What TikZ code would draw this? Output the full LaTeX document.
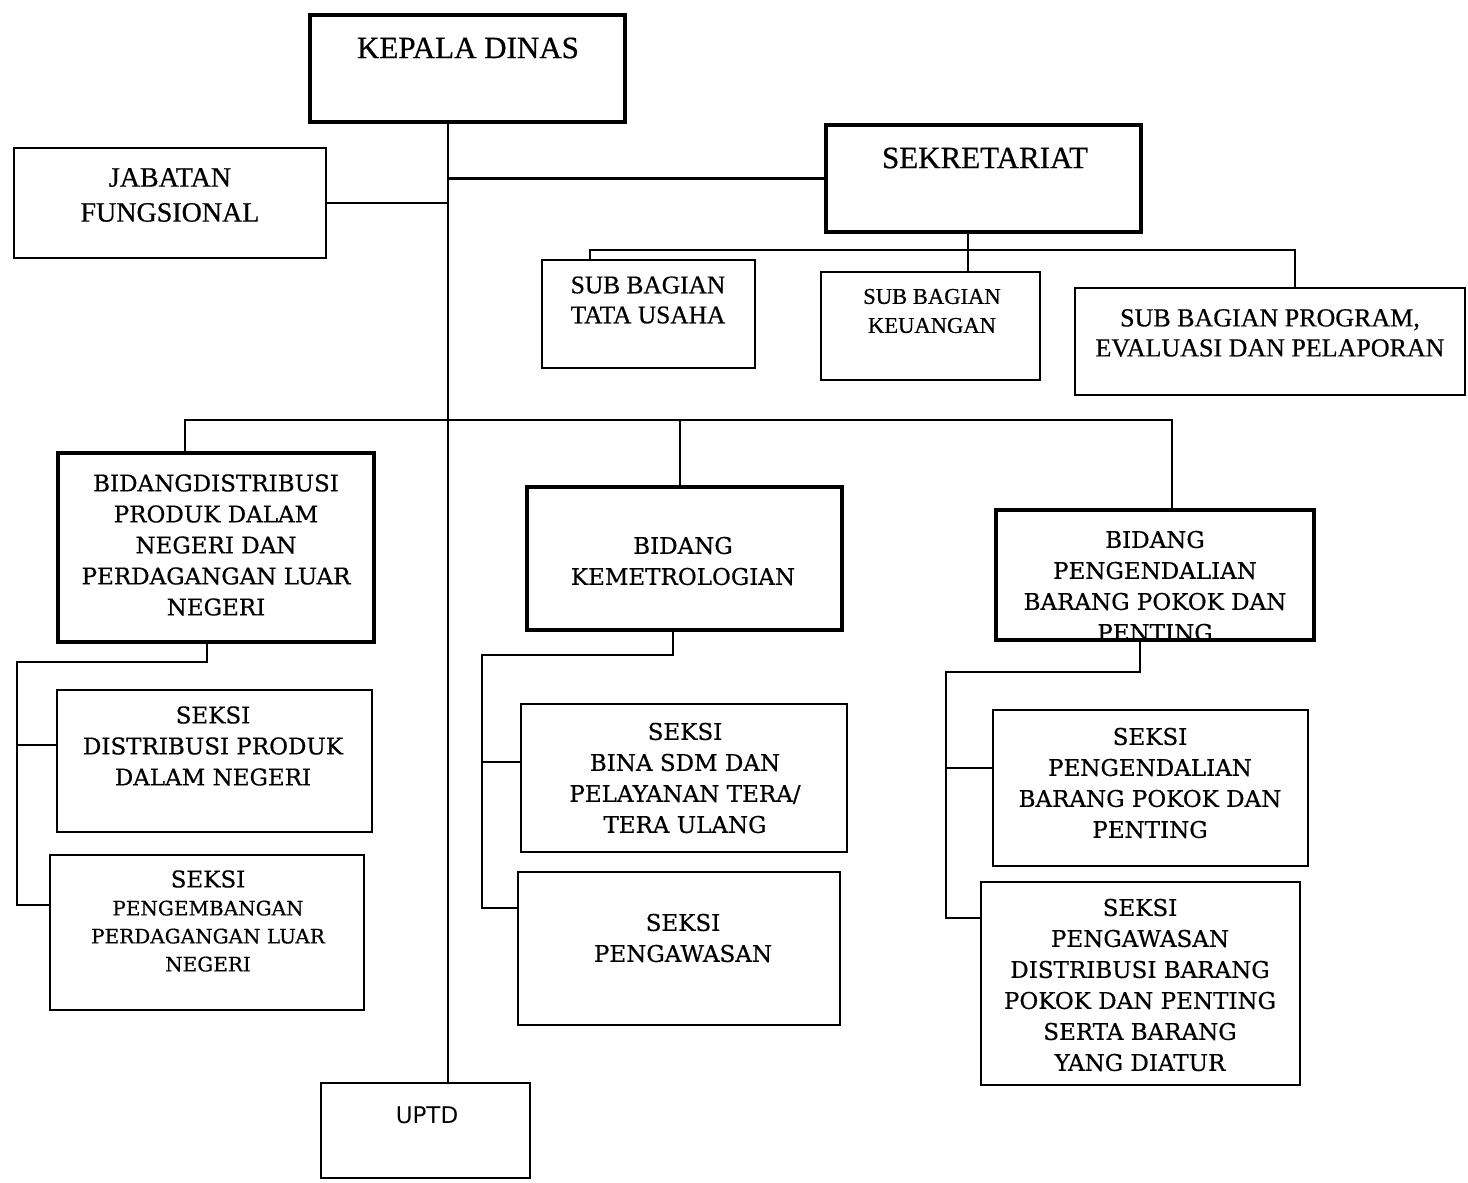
\documentclass[tikz,border=0pt]{standalone}
\usepackage{fontspec}
\setmainfont{DejaVu Serif}[UprightFeatures={FakeBold=0.6}]
\newfontfamily\timesf{Liberation Serif}[UprightFeatures={FakeBold=0.6}]
\newfontfamily\uptdfont{DejaVu Sans}
\usetikzlibrary{fit}
\tikzset{
  thinbox/.style={draw, line width=1pt, inner sep=0pt},
  thickbox/.style={draw, line width=2.2pt, inner sep=0pt},
  conn/.style={line width=1.1pt},
  bt/.style={align=center, inner sep=0pt, font=\fontsize{11.5}{15.5}\selectfont},
  bts/.style={align=center, inner sep=0pt, font=\fontsize{10}{14}\selectfont},
  tt/.style={align=center, inner sep=0pt},
}
\begin{document}
\begin{tikzpicture}[x=0.5pt,y=-0.5pt]
\useasboundingbox[fill=white] (0,0) rectangle (1468,1183);

% boxes
\node[thickbox, fit={(310,15) (625,122)}] (kd) {};
\node[thinbox, fit={(14,148) (326,258)}] (jf) {};
\node[thickbox, fit={(826,125) (1141,232)}] (sek) {};
\node[thinbox, fit={(542,260) (755,368)}] (sbtu) {};
\node[thinbox, fit={(821,272) (1040,380)}] (sbk) {};
\node[thinbox, fit={(1075,288) (1465,395)}] (sbp) {};
\node[thickbox, fit={(58,453) (374,642)}] (bd) {};
\node[thickbox, fit={(527,487) (842,630)}] (bk) {};
\node[thickbox, fit={(996,510) (1314,640)}] (bp) {};
\node[thinbox, fit={(57,690) (372,832)}] (s1) {};
\node[thinbox, fit={(50,855) (364,1010)}] (s2) {};
\node[thinbox, fit={(521,704) (847,852)}] (s3) {};
\node[thinbox, fit={(518,872) (840,1025)}] (s4) {};
\node[thinbox, fit={(993,710) (1308,866)}] (s5) {};
\node[thinbox, fit={(981,882) (1300,1085)}] (s6) {};
\node[thinbox, fit={(321,1083) (530,1178)}] (uptd) {};

% texts
\node[tt, font=\timesf\fontsize{15.5}{18}\selectfont] (kdT) at (468,48) {KEPALA DINAS};
\node[tt, font=\timesf\fontsize{14}{17.5}\selectfont] (jfT) at (170,195) {JABATAN\\FUNGSIONAL};
\node[tt, font=\timesf\fontsize{15.5}{18}\selectfont] (sekT) at (985,158) {SEKRETARIAT};
\node[tt, font=\timesf\fontsize{12.7}{15}\selectfont] (sbtuT) at (648,300) {SUB BAGIAN\\TATA USAHA};
\node[tt, font=\timesf\fontsize{11.3}{14.5}\selectfont] (sbkT) at (932,311) {SUB BAGIAN\\KEUANGAN};
\node[tt, font=\timesf\fontsize{13}{15}\selectfont] (sbpT) at (1270,333) {SUB BAGIAN PROGRAM,\\EVALUASI DAN PELAPORAN};
\node[bt] (bdT) at (216,545) {BIDANGDISTRIBUSI\\PRODUK DALAM\\NEGERI DAN\\PERDAGANGAN LUAR\\NEGERI};
\node[bt] (bkT) at (683,561) {BIDANG\\KEMETROLOGIAN};
\begin{scope}
\clip (bp.north west) rectangle ([yshift=1.1pt]bp.south east);
\node[bt] (bpT) at (1155,586) {BIDANG\\PENGENDALIAN\\BARANG POKOK DAN\\PENTING};
\end{scope}
\node[bt] (s1T) at (213,746) {SEKSI\\DISTRIBUSI PRODUK\\DALAM NEGERI};
\node[bts] (s2T) at (208,921) {{\fontsize{11.5}{14}\selectfont SEKSI}\\PENGEMBANGAN\\PERDAGANGAN LUAR\\NEGERI};
\node[bt] (s3T) at (685,778) {SEKSI\\BINA SDM DAN\\PELAYANAN TERA/\\TERA ULANG};
\node[bt] (s4T) at (683,938) {SEKSI\\PENGAWASAN};
\node[bt] (s5T) at (1150,783) {SEKSI\\PENGENDALIAN\\BARANG POKOK DAN\\PENTING};
\node[bt] (s6T) at (1140,985) {SEKSI\\PENGAWASAN\\DISTRIBUSI BARANG\\POKOK DAN PENTING\\SERTA BARANG\\YANG DIATUR};
\node[inner sep=0pt, font=\uptdfont\fontsize{11.5}{14}\selectfont] (uptdT) at (427,1115) {UPTD};

% coordinates
\coordinate (trk) at (448,0);
\coordinate (sx) at (968,0);
\coordinate (sb1) at (590,250);
\coordinate (sb2) at (1295,250);
\coordinate (bb1) at (185,420);
\coordinate (bb2) at (680,420);
\coordinate (bb3) at (1172,420);
\coordinate (d1) at (207,662);
\coordinate (d2) at (17,662);
\coordinate (d3) at (17,745);
\coordinate (d4) at (17,905);
\coordinate (k1) at (673,655);
\coordinate (k2) at (482,655);
\coordinate (k3) at (482,762);
\coordinate (k4) at (482,908);
\coordinate (p1) at (1140,672);
\coordinate (p2) at (946,672);
\coordinate (p3) at (946,768);
\coordinate (p4) at (946,918);

% connectors
\draw[conn] (kd.south -| trk) -- (uptd.north -| trk);
\draw[conn] (jf.east) -- (jf.east -| trk);
\draw[conn] (trk |- sek.west) -- (sek.west);
\draw[conn] (sek.south -| sx) -- (sbk.north -| sx);
\draw[conn] (sbtu.north -| sb1) -- (sb1) -- (sb2) -- (sbp.north -| sb2);
\draw[conn] (bd.north -| bb1) -- (bb1) -- (bb3) -- (bp.north -| bb3);
\draw[conn] (bb2) -- (bk.north -| bb2);
\draw[conn] (bd.south -| d1) -- (d1) -- (d2) -- (d4) -- (s2.west |- d4);
\draw[conn] (d3) -- (s1.west |- d3);
\draw[conn] (bk.south -| k1) -- (k1) -- (k2) -- (k4) -- (s4.west |- k4);
\draw[conn] (k3) -- (s3.west |- k3);
\draw[conn] (bp.south -| p1) -- (p1) -- (p2) -- (p4) -- (s6.west |- p4);
\draw[conn] (p3) -- (s5.west |- p3);
\end{tikzpicture}
\end{document}
